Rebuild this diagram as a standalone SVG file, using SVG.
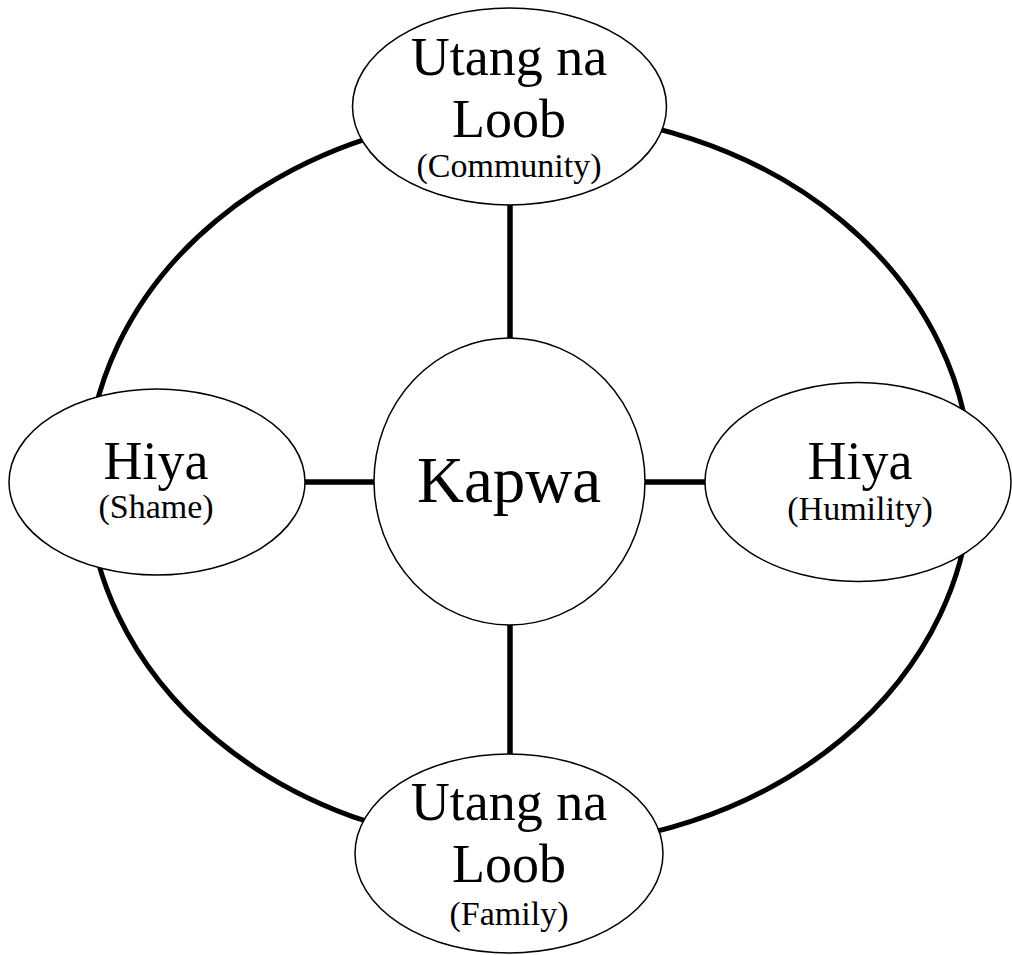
<svg xmlns="http://www.w3.org/2000/svg" width="1012" height="955" viewBox="0 0 1012 955">
  <style>
    .ring { fill: none; stroke: #000; stroke-width: 5; }
    .link { stroke: #000; stroke-width: 5.5; }
    .node { fill: #fff; stroke: #000; stroke-width: 1.5; }
    text { font-family: "Liberation Serif", "Times New Roman", serif; fill: #000; text-anchor: middle; }
    .title { font-size: 54px; }
    .sub { font-size: 34px; }
    .core { font-size: 65px; }
  </style>
  <rect width="1012" height="955" fill="#fff"/>

  <!-- outer ring linking the four values -->
  <ellipse class="ring" cx="529" cy="480" rx="442" ry="367"/>

  <g id="connectors">
    <line class="link" x1="510" y1="205" x2="510" y2="339"/>
    <line class="link" x1="510" y1="624" x2="510" y2="755"/>
    <line class="link" x1="304" y1="482" x2="375" y2="482"/>
    <line class="link" x1="644" y1="482" x2="706" y2="482"/>
  </g>

  <g id="utang-community">
    <ellipse class="node" cx="509.5" cy="106.5" rx="157" ry="98.5"/>
    <text class="title" x="509" y="75">Utang na</text>
    <text class="title" x="509" y="137">Loob</text>
    <text class="sub" x="509" y="177">(Community)</text>
  </g>

  <g id="hiya-shame">
    <ellipse class="node" cx="157" cy="482" rx="148" ry="93"/>
    <text class="title" x="156" y="479">Hiya</text>
    <text class="sub" x="156" y="518">(Shame)</text>
  </g>

  <g id="kapwa">
    <ellipse class="node" cx="509.5" cy="481.5" rx="135.5" ry="143.5"/>
    <text class="core" x="509" y="502">Kapwa</text>
  </g>

  <g id="hiya-humility">
    <ellipse class="node" cx="858" cy="482" rx="153" ry="99.5"/>
    <text class="title" x="860" y="479">Hiya</text>
    <text class="sub" x="860" y="520">(Humility)</text>
  </g>

  <g id="utang-family">
    <ellipse class="node" cx="509" cy="853.5" rx="154" ry="99.5"/>
    <text class="title" x="509" y="820">Utang na</text>
    <text class="title" x="509" y="882">Loob</text>
    <text class="sub" x="509" y="925">(Family)</text>
  </g>
</svg>
